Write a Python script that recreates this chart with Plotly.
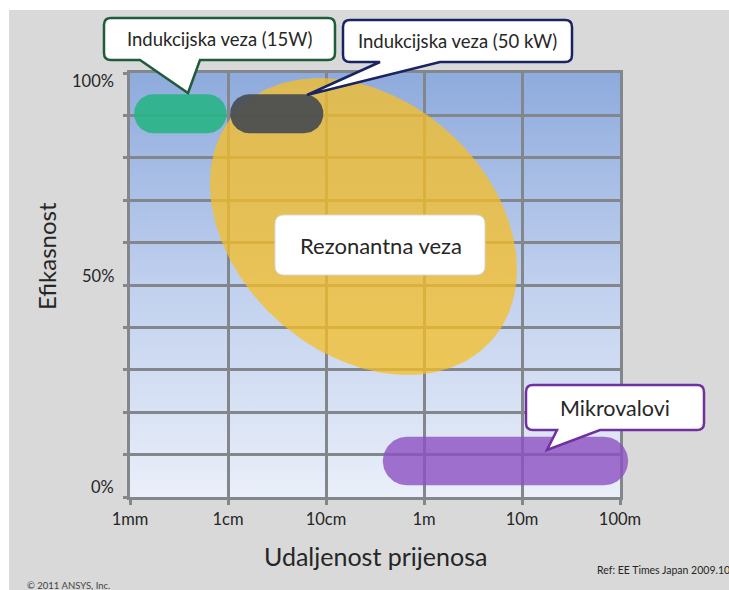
import numpy as np
import plotly.graph_objects as go

# ---------------- data ----------------
x_tick_vals = [1e-3, 1e-2, 1e-1, 1, 10, 100]
x_tick_text = ['1mm', '1cm', '10cm', '1m', '10m', '100m']
y_grid_vals = [0, 10, 20, 30, 40, 50, 60, 70, 80, 90, 100]
y_label_vals = [2.4, 52.1, 98.2]          # label anchor positions (%)
y_label_text = ['0%', '50%', '100%']

# technologies: transfer distance range (m) and efficiency band (%)
tech_names = ['Indukcijska veza (15W)', 'Indukcijska veza (50 kW)', 'Mikrovalovi']
tech_dist_min = [1.1e-3, 1.05e-2, 0.38]
tech_dist_max = [9.7e-3, 0.094, 121.0]
tech_eff_mid = [90.4, 90.4, 8.5]
tech_eff_half = [4.6, 4.6, 5.7]
tech_colors = ['rgba(40,180,134,0.90)', 'rgba(72,76,80,0.92)', 'rgba(140,80,194,0.80)']

# resonant coupling region (tilted ellipse)
res_name = 'Rezonantna veza'
res_center_dist = 0.241      # m
res_center_eff = 63.8        # %
res_half_width_dec = 1.566   # decades
res_right_drop = 10.1        # % drop of the right-most point
res_half_height = 35.0       # %
res_color = 'rgba(246,190,40,0.76)'

# ---------------- layout constants (px) ----------------
W, H = 729, 590
PL, PR, PT, PB = 130, 620, 73, 497
KX = (PR - PL) / 5.0     # px per decade
KY = (PB - PT) / 100.0   # px per %
LA0 = -3 - PL / KX
LA1 = 2 + (W - PR) / KX
VA0 = 0 - (H - PB) / KY
VA1 = 100 + PT / KY

GRID = '#83878c'
TXT = '#262626'
FONT = 'Lato'

fig = go.Figure()

# background gradient of the plot area (subplot xy, full canvas axes)
fig.add_trace(go.Scatter(
    x=[x_tick_vals[0], x_tick_vals[-1], x_tick_vals[-1], x_tick_vals[0], x_tick_vals[0]],
    y=[0, 0, 100, 100, 0], mode='lines', line=dict(width=0), fill='toself',
    fillgradient=dict(type='vertical', colorscale=[[0, '#eaeff9'], [0.5, '#c0d0ee'], [1, '#8eabdd']]),
    xaxis='x', yaxis='y', hoverinfo='skip'))

# main axes (subplot x2y2) - carries the grid
fig.add_trace(go.Scatter(x=[x_tick_vals[0]], y=[0], mode='markers', marker=dict(size=0.1, opacity=0),
                         xaxis='x2', yaxis='y2', hoverinfo='skip'))

# resonant ellipse (subplot x3y3)
t = np.linspace(0, 2 * np.pi, 200)
cu = np.log10(res_center_dist)
by = np.sqrt(res_half_height ** 2 - res_right_drop ** 2)
ex = 10 ** (cu + res_half_width_dec * np.cos(t))
ey = res_center_eff - res_right_drop * np.cos(t) + by * np.sin(t)
fig.add_trace(go.Scatter(x=ex, y=ey, mode='lines', line=dict(width=0), fill='toself',
                         fillcolor=res_color, xaxis='x3', yaxis='y3', hoverinfo='skip'))

# technology pills
for dmin, dmax, mid, half, col in zip(tech_dist_min, tech_dist_max, tech_eff_mid, tech_eff_half, tech_colors):
    r_dec = half * KY / KX
    u1 = np.log10(dmin) + r_dec
    u2 = np.log10(dmax) - r_dec
    a1 = np.linspace(-np.pi / 2, np.pi / 2, 40)
    a2 = np.linspace(np.pi / 2, 3 * np.pi / 2, 40)
    us = np.concatenate([u2 + r_dec * np.cos(a1), u1 + r_dec * np.cos(a2)])
    ys = np.concatenate([mid + half * np.sin(a1), mid + half * np.sin(a2)])
    us = np.append(us, us[0]); ys = np.append(ys, ys[0])
    fig.add_trace(go.Scatter(x=10 ** us, y=ys, mode='lines', line=dict(width=0), fill='toself',
                             fillcolor=col, xaxis='x3', yaxis='y3', hoverinfo='skip'))


# ---------------- callouts ----------------
def P(px, py):
    return f"{px / W:.5f},{1 - py / H:.5f}"


def callout_path(x0, y0, x1, y1, r, tail=None):
    s = f"M{P(x0 + r, y0)} L{P(x1 - r, y0)} Q{P(x1, y0)} {P(x1, y0 + r)} L{P(x1, y1 - r)} Q{P(x1, y1)} {P(x1 - r, y1)} "
    if tail:
        bl, br, tx, ty = tail
        s += f"L{P(br, y1)} L{P(tx, ty)} L{P(bl, y1)} "
    s += f"L{P(x0 + r, y1)} Q{P(x0, y1)} {P(x0, y1 - r)} L{P(x0, y0 + r)} Q{P(x0, y0)} {P(x0 + r, y0)} Z"
    return s


callouts = [
    # box x0, y0, x1, y1, radius, tail, border, text, font size
    (104, 18, 335, 60, 7, (140, 200, 188, 93), '#1f5c3a', tech_names[0], 18.5),
    (343, 20, 572, 62, 7, (380, 440, 307, 95), '#1b2463', tech_names[1], 18.5),
    (526, 385, 704, 430, 7, (557, 600, 547, 450), '#7030a0', tech_names[2], 21.5),
]
shapes = [dict(type='rect', xref='paper', yref='paper', x0=9 / W, x1=1, y0=0, y1=1 - 10 / H,
               fillcolor='#d9d9d9', line=dict(width=0), layer='below')]
annotations = []
for x0, y0, x1, y1, r, tail, bc, txt, fs in callouts:
    shapes.append(dict(type='path', xref='paper', yref='paper', path=callout_path(x0, y0, x1, y1, r, tail),
                       fillcolor='white', line=dict(color=bc, width=2.5), layer='above'))
    annotations.append(dict(x=(x0 + x1) / 2 / W, y=1 - (y0 + y1) / 2 / H, xref='paper', yref='paper',
                            text=txt, showarrow=False, xanchor='center', yanchor='middle',
                            font=dict(family=FONT, size=fs, color=TXT)))
# resonant label box
shapes.append(dict(type='path', xref='paper', yref='paper', path=callout_path(275, 215, 485, 275, 9),
                   fillcolor='white', line=dict(color='rgba(215,215,215,0.9)', width=1), layer='above'))
annotations.append(dict(x=381 / W, y=1 - 245 / H, xref='paper', yref='paper', text=res_name, showarrow=False,
                        xanchor='center', yanchor='middle', font=dict(family=FONT, size=22, color=TXT)))

# y tick labels
for v, s in zip(y_label_vals, y_label_text):
    annotations.append(dict(x=116 / W, y=v, xref='paper', yref='y2', text=s, showarrow=False,
                            xanchor='right', yanchor='middle', font=dict(family=FONT, size=16.5, color=TXT)))
# axis titles
annotations.append(dict(x=375 / W, y=1 - 556 / H, xref='paper', yref='paper', text='Udaljenost prijenosa',
                        showarrow=False, xanchor='center', yanchor='middle',
                        font=dict(family=FONT, size=25, color=TXT)))
annotations.append(dict(x=46 / W, y=1 - 256 / H, xref='paper', yref='paper', text='Efikasnost',
                        showarrow=False, xanchor='center', yanchor='middle', textangle=-90,
                        font=dict(family=FONT, size=24, color=TXT)))
annotations.append(dict(x=595 / W, y=1 - 570 / H, xref='paper', yref='paper', text='Ref: EE Times Japan 2009.10',
                        showarrow=False, xanchor='left', yanchor='middle',
                        font=dict(family=FONT, size=10.5, color=TXT)))
annotations.append(dict(x=25 / W, y=1 - 585 / H, xref='paper', yref='paper', text='© 2011 ANSYS, Inc.',
                        showarrow=False, xanchor='left', yanchor='middle',
                        font=dict(family=FONT, size=9.5, color='#444')))

hidden = dict(visible=False, showgrid=False, zeroline=False, fixedrange=True)
fig.update_layout(
    width=W, height=H, margin=dict(l=0, r=0, t=0, b=0, autoexpand=False),
    paper_bgcolor='white', plot_bgcolor='rgba(0,0,0,0)', showlegend=False, hovermode=False,
    xaxis=dict(type='log', range=[LA0, LA1], domain=[0, 1], anchor='y', **hidden),
    yaxis=dict(range=[VA0, VA1], domain=[0, 1], anchor='x', **hidden),
    xaxis3=dict(type='log', range=[LA0, LA1], domain=[0, 1], anchor='y3', **hidden),
    yaxis3=dict(range=[VA0, VA1], domain=[0, 1], anchor='x3', **hidden),
    xaxis2=dict(type='log', range=[-3, 2], domain=[PL / W, PR / W], anchor='y2',
                tickvals=x_tick_vals, ticktext=x_tick_text, showgrid=True, gridcolor=GRID, gridwidth=2.5,
                showline=True, linecolor=GRID, linewidth=2.5, mirror=True, zeroline=False,
                ticks='outside', ticklen=5, tickwidth=2.5, tickcolor=GRID,
                tickfont=dict(family=FONT, size=16.5, color=TXT), fixedrange=True),
    yaxis2=dict(range=[0, 100], domain=[1 - PB / H, 1 - PT / H], anchor='x2',
                tickvals=y_grid_vals, ticktext=[''] * len(y_grid_vals), showgrid=True, gridcolor=GRID,
                gridwidth=2.5, showline=True, linecolor=GRID, linewidth=2.5, mirror=True, zeroline=False,
                ticks='outside', ticklen=4, tickwidth=2.5, tickcolor=GRID, fixedrange=True),
    shapes=shapes, annotations=annotations,
)

fig.write_html('out.html', config={'displayModeBar': False},
               post_script="document.body.style.margin='0px';")
